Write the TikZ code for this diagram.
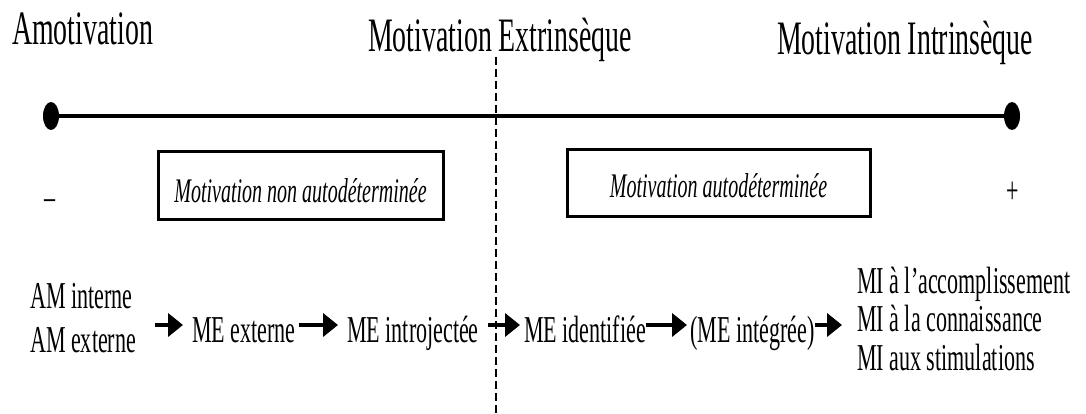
\documentclass[tikz,border=0pt]{standalone}
\usepackage{fontspec}
\setmainfont{Liberation Serif}[FakeStretch=0.58]
\usetikzlibrary{arrows.meta}

\begin{document}
\begin{tikzpicture}[x=1pt, y=-1pt,
    titre/.style={anchor=base west, inner sep=0pt, font=\fontsize{48}{56}\selectfont},
    etape/.style={anchor=base west, inner sep=0pt, text height=34pt, text depth=0pt, font=\fontsize{38}{44}\selectfont},
    liste/.style={anchor=base west, inner sep=0pt, align=left},
    cadre/.style={draw, line width=3pt, inner sep=0pt, text depth=0pt, font=\fontsize{34.5}{40}\selectfont\itshape},
    signe/.style={anchor=base, inner sep=0pt, font=\fontsize{38}{44}\selectfont},
    fleche/.style={-{Triangle[length=15pt,width=23pt]}, line width=4pt}]
    \useasboundingbox (0,0) rectangle (1086,414);
    % 1. coordonnees de l'echelle
    \coordinate (lo) at (51,116);
    \coordinate (hi) at (1012,116);
    \coordinate (haut) at (496,57);
    \coordinate (bas) at (496,414);
    % 2. axe du continuum
    \draw[line width=4pt] (lo) -- (hi);
    \fill (lo) ellipse [x radius=8, y radius=14];
    \fill (hi) ellipse [x radius=8, y radius=14];
    % 3. separation en pointilles
    \draw[line width=2pt, dash pattern=on 8pt off 4pt] (haut) -- (bas);
    % 4. titres
    \node[titre] (amot) at (12,45) {Amotivation};
    \node[titre] (extr) at (368,52) {Motivation Extrinsèque};
    \node[titre] (intr) at (777,55) {Motivation Intrinsèque};
    % 5. cadres et signes
    \node[cadre, text height=33pt, minimum width=285, minimum height=67] (nonauto) at (300.5,185.5) {Motivation non autodéterminée};
    \node[cadre, text height=28pt, minimum width=303, minimum height=66] (auto) at (718.5,183) {Motivation autodéterminée};
    \node[signe] (moins) at (50,209) {–};
    \node[signe] (plus) at (1013,204) {+};
    % 6. les etapes (base = derniere ligne)
    \node[liste, font=\fontsize{38}{44}\selectfont] (am) at (30,352) {AM interne\\AM externe};
    \node[etape] (mee) at (192,342) {ME externe};
    \node[etape] (mei) at (347,342) {ME introjectée};
    \node[etape] (mid) at (524,342) {ME identifiée};
    \node[etape] (mit) at (690,342) {(ME intégrée)};
    \node[liste, font=\fontsize{38}{38.5}\selectfont] (mi) at (857,370) {MI à l’accomplissement\\MI à la connaissance\\MI aux stimulations};
    % 7. fleches
    \draw[fleche, shorten <=19pt, shorten >=9pt] (am.east |- mee.west) -- (mee.west);
    \draw[fleche, shorten <=3pt, shorten >=9pt] (mee.east) -- (mei.west);
    \draw[fleche, shorten <=9pt, shorten >=4pt] (mei.east) -- (mid.west);
    \draw[fleche, shorten >=3pt] (mid.east) -- (mit.west);
    \draw[fleche, shorten >=15pt] (mit.east) -- (mi.west |- mit.east);
\end{tikzpicture}
\end{document}
